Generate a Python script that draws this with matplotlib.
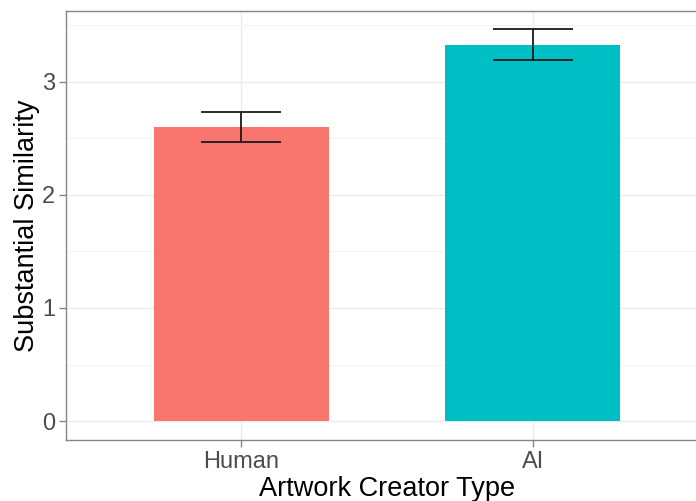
import numpy as np
import matplotlib
matplotlib.use("Agg")
import matplotlib.pyplot as plt
from matplotlib.ticker import MultipleLocator

# Mean similarity rating by creator type, with standard errors
creators = ["Human", "AI"]
means = [2.60, 3.33]
errors = [0.13, 0.135]
colors = ["#F8766D", "#00BFC4"]

plt.rcParams['font.family'] = ['Liberation Sans', 'DejaVu Sans']

fig = plt.figure(figsize=(6.96, 5.01), dpi=100)
# panel runs a little past the right edge of the canvas
ax = fig.add_axes([66 / 696, 61 / 501, 642 / 696, 429 / 501])

x = np.arange(len(creators))
ax.bar(x, means, width=0.6, color=colors, zorder=2)
ax.errorbar(x, means, yerr=errors, fmt='none', ecolor='#1a1a1a',
            elinewidth=1.3, capsize=29, capthick=1.3, zorder=3)

ax.set_xlim(-0.6, 1.6)
ax.set_ylim(-0.168, 3.628)
ax.set_xticks(x)
ax.set_xticklabels(creators)
ax.yaxis.set_major_locator(MultipleLocator(1))
ax.yaxis.set_minor_locator(MultipleLocator(0.5))

# theme_bw style grid
ax.grid(True, which='major', color='#ebebeb', linewidth=1.0, zorder=0)
ax.grid(True, which='minor', axis='y', color='#f3f3f3', linewidth=0.7, zorder=0)
ax.set_axisbelow(True)

for side in ['left', 'bottom', 'top', 'right']:
    ax.spines[side].set_color('#858585')
    ax.spines[side].set_linewidth(1.0)

ax.tick_params(axis='both', which='major', length=5, width=1.0, color='#858585',
               labelsize=17, labelcolor='#4d4d4d', pad=3)
ax.tick_params(axis='y', which='minor', length=0)

ax.set_xlabel('Artwork Creator Type', fontsize=19.5, color='black', labelpad=2)
ax.set_ylabel('Substantial Similarity', fontsize=19.5, color='black', labelpad=1)

fig.savefig('out.png', dpi=100)
